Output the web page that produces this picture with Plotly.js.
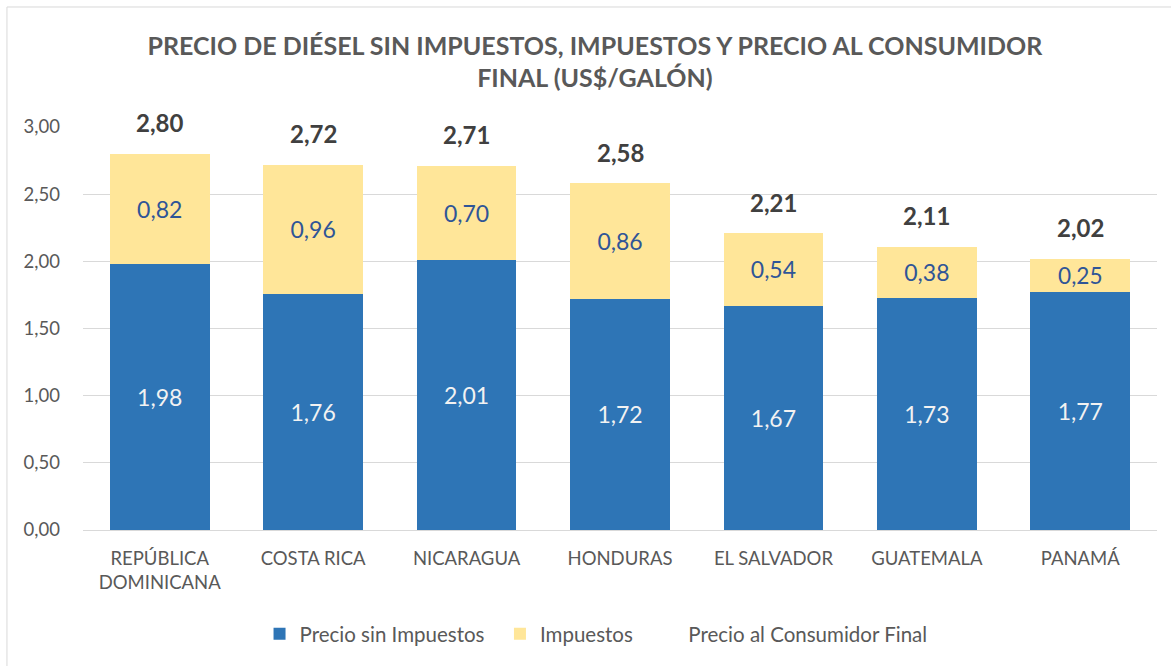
<!DOCTYPE html>
<html>
<head>
<meta charset="utf-8">
<script src="https://cdn.plot.ly/plotly-3.0.1.min.js"></script>
<style>html,body{margin:0;padding:0;background:#fff;}#chart{width:1171px;height:666px;}</style>
</head>
<body>
<div id="chart"></div>
<script>
const categories = ["REPÚBLICA<br>DOMINICANA", "COSTA RICA", "NICARAGUA", "HONDURAS", "EL SALVADOR", "GUATEMALA", "PANAMÁ"];
const precioSinImpuestos = [1.98, 1.76, 2.01, 1.72, 1.67, 1.73, 1.77];
const impuestos = [0.82, 0.96, 0.70, 0.86, 0.54, 0.38, 0.25];
const precioFinal = [2.80, 2.72, 2.71, 2.58, 2.21, 2.11, 2.02];
const yTicks = [0, 0.5, 1, 1.5, 2, 2.5, 3];

const FONT = "Lato, 'Open Sans', sans-serif";
const PAD = "\u00a0\u00a0";

const traces = [
  {
    type: "bar", name: "Precio sin Impuestos" + PAD, x: categories, y: precioSinImpuestos,
    marker: {color: "#2E75B6"},
    texttemplate: "%{y:.2f}", textposition: "inside", insidetextanchor: "middle",
    textfont: {family: FONT, size: 23, color: "#F2F2F2"}, hoverinfo: "y"
  },
  {
    type: "bar", name: "Impuestos" + PAD, x: categories, y: impuestos,
    marker: {color: "#FFE699"},
    texttemplate: "%{y:.2f}", textposition: "inside", insidetextanchor: "middle",
    textfont: {family: FONT, size: 23, color: "#2F5597"}, hoverinfo: "y"
  },
  {
    type: "scatter", mode: "lines", name: "Precio al Consumidor Final", x: categories, y: precioFinal,
    line: {color: "rgba(0,0,0,0)", width: 0}, hoverinfo: "y"
  }
];

const totalAnnotations = categories.map((c, i) => ({
  x: c, y: precioFinal[i], xref: "x", yref: "y",
  text: "<b>" + precioFinal[i].toFixed(2).replace(".", ",") + "</b>",
  showarrow: false, yanchor: "middle", yshift: 31,
  font: {family: FONT, size: 24, color: "#404040"}
}));

const layout = {
  width: 1171, height: 666,
  separators: ",.",
  barmode: "stack", bargap: 0.35,
  paper_bgcolor: "#ffffff", plot_bgcolor: "#ffffff",
  font: {family: FONT, color: "#595959"},
  margin: {l: 83, r: 14, t: 127, b: 136},
  title: {
    text: "<b>PRECIO DE DIÉSEL SIN IMPUESTOS, IMPUESTOS Y PRECIO AL CONSUMIDOR<br>FINAL (US$/GALÓN)</b>",
    font: {family: FONT, size: 25, color: "#595959"},
    x: 0.508, xref: "container", xanchor: "center", y: 0.918, yref: "container", yanchor: "middle"
  },
  xaxis: {
    type: "category", showgrid: false, showline: true, linecolor: "#D9D9D9", linewidth: 1,
    ticks: "", ticklabelstandoff: 12, tickfont: {family: FONT, size: 18.5, color: "#595959"}, fixedrange: true
  },
  yaxis: {
    range: [0, 3], tickvals: yTicks, tickformat: ".2f", showgrid: true, gridcolor: "#D9D9D9",
    gridwidth: 1, zeroline: false, showline: false, ticks: "", ticklabelstandoff: 22,
    tickfont: {family: FONT, size: 18.5, color: "#595959"}, fixedrange: true
  },
  legend: {
    orientation: "h", x: 0.509, xref: "container", xanchor: "center", y: 0.048, yref: "container", yanchor: "middle",
    font: {family: FONT, size: 20.5, color: "#595959"}, traceorder: "normal", itemwidth: 30
  },
  annotations: totalAnnotations,
  shapes: [{
    type: "rect", xref: "paper", yref: "paper",
    x0: -0.0708, x1: 1.2, y0: -0.5, y1: 1.2978,
    line: {color: "#D9D9D9", width: 1}, fillcolor: "rgba(0,0,0,0)", layer: "below"
  }],
  showlegend: true
};

Plotly.newPlot("chart", traces, layout, {displayModeBar: false, staticPlot: true});
</script>
</body>
</html>
